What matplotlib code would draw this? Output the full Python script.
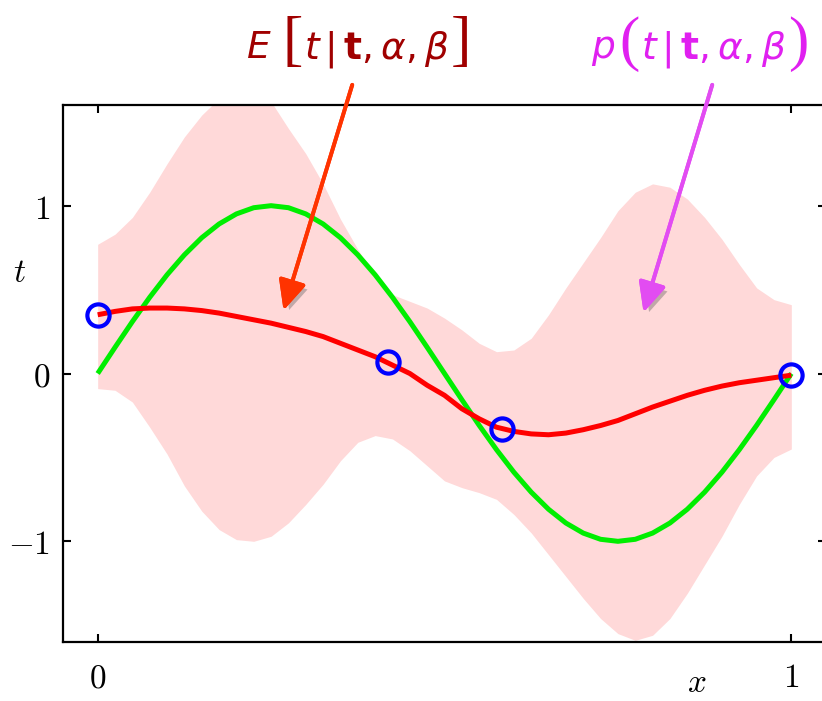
import numpy as np
import matplotlib
matplotlib.use("Agg")
import matplotlib.pyplot as plt
import matplotlib.patheffects as pe

plt.rcParams['mathtext.fontset'] = 'cm'

# values
x_grid = [0.0, 0.025, 0.05, 0.075, 0.1, 0.125, 0.15, 0.175, 0.2, 0.225,
          0.25, 0.275, 0.3, 0.325, 0.35, 0.375, 0.4, 0.425, 0.45, 0.475,
          0.5, 0.525, 0.55, 0.575, 0.6, 0.625, 0.65, 0.675, 0.7, 0.725,
          0.75, 0.775, 0.8, 0.825, 0.85, 0.875, 0.9, 0.925, 0.95, 0.975, 1.0]

band_upper = [0.77, 0.83, 0.93, 1.08, 1.25, 1.41, 1.54, 1.64, 1.71, 1.70,
              1.62, 1.46, 1.31, 1.13, 0.92, 0.74, 0.58, 0.47, 0.43, 0.39,
              0.33, 0.26, 0.18, 0.13, 0.14, 0.21, 0.35, 0.51, 0.66, 0.81,
              0.97, 1.08, 1.13, 1.11, 1.04, 0.93, 0.80, 0.65, 0.51, 0.44, 0.41]

band_lower = [-0.09, -0.10, -0.17, -0.32, -0.48, -0.67, -0.82, -0.93, -0.99, -1.00,
              -0.97, -0.89, -0.78, -0.66, -0.52, -0.41, -0.37, -0.39, -0.46, -0.55,
              -0.64, -0.68, -0.71, -0.75, -0.84, -0.95, -1.08, -1.21, -1.34, -1.46,
              -1.55, -1.59, -1.56, -1.46, -1.31, -1.14, -0.97, -0.78, -0.61, -0.50, -0.45]

pred_mean = [0.35, 0.37, 0.385, 0.39, 0.39, 0.385, 0.375, 0.36, 0.34, 0.32,
             0.30, 0.275, 0.25, 0.22, 0.18, 0.14, 0.10, 0.05, 0.0, -0.07,
             -0.13, -0.21, -0.27, -0.32, -0.345, -0.36, -0.365, -0.355, -0.335, -0.31,
             -0.28, -0.24, -0.20, -0.165, -0.13, -0.10, -0.075, -0.055, -0.04, -0.025, -0.01]

true_curve = [0.0, 0.156, 0.309, 0.454, 0.588, 0.707, 0.809, 0.891, 0.951, 0.988,
              1.0, 0.988, 0.951, 0.891, 0.809, 0.707, 0.588, 0.454, 0.309, 0.156,
              0.0, -0.156, -0.309, -0.454, -0.588, -0.707, -0.809, -0.891, -0.951, -0.988,
              -1.0, -0.988, -0.951, -0.891, -0.809, -0.707, -0.588, -0.454, -0.309, -0.156, 0.0]

x_data = [0.0, 0.418, 0.583, 1.0]
t_data = [0.35, 0.066, -0.33, -0.01]

W, H = 822, 701
fig = plt.figure(figsize=(W / 100, H / 100), dpi=100)
ax = fig.add_axes([63/W, 59/H, 763/W, 537/H])

ax.fill_between(x_grid, band_lower, band_upper, color='#ffd9d9', lw=0)
ax.plot(x_grid, true_curve, color='#00ee00', lw=3.6, solid_capstyle='butt')
ax.plot(x_grid, pred_mean, color='#ff0000', lw=3.6, solid_capstyle='butt')
ax.plot(x_data, t_data, 'o', ms=16, mfc='none', mec='#0000ff', mew=3, clip_on=False)

ax.set_xlim(-0.05, 1.05)
ax.set_ylim(-1.6, 1.6)
ax.set_xticks([0, 1])
ax.set_xticklabels(['$0$', '$1$'])
ax.set_yticks([-1, 0, 1])
ax.set_yticklabels(['$-1$', '$0$', '$1$'])
ax.tick_params(direction='in', top=True, right=True, length=6, width=1.5,
               labelsize=24)
ax.tick_params(axis='x', pad=14)
ax.tick_params(axis='y', pad=9)
for s in ax.spines.values():
    s.set_linewidth(1.6)

fig.text(20/W, 1 - 272/H, '$t$', fontsize=24, ha='center', va='center')
fig.text(697/W, 1 - 683/H, '$x$', fontsize=24, ha='center', va='center')

# annotations with shadowed arrows
shadow = [pe.withSimplePatchShadow(offset=(3, -3), shadow_rgbFace='0.3', alpha=0.35), pe.Normal()]
ax.annotate('', xy=(0.268, 0.377), xytext=(0.367, 1.72), annotation_clip=False,
            arrowprops=dict(arrowstyle='-|>,head_length=0.6,head_width=0.28',
                            mutation_scale=30, color='#ff3300', lw=2.8,
                            shrinkA=0, shrinkB=0, path_effects=shadow))
ax.annotate('', xy=(0.787, 0.365), xytext=(0.886, 1.72), annotation_clip=False,
            arrowprops=dict(arrowstyle='-|>,head_length=0.6,head_width=0.28',
                            mutation_scale=30, color='#e24cf2', lw=2.8,
                            shrinkA=0, shrinkB=0, path_effects=shadow))

# label text pieces: letter, big bracket, inner text, big bracket
def label(parts, color):
    for xc, s, kind in parts:
        if kind == 'br':
            fig.text(xc / W, 1 - 44 / H, s, fontsize=44, color=color, ha='center',
                     va='center', family='Liberation Serif')
        else:
            fig.text(xc / W, 1 - 58 / H, s, fontsize=27, color=color, ha='center',
                     va='baseline', math_fontfamily='dejavusans')

label([(259, r'$\mathit{E}$', 'tx'), (293, '[', 'br'),
       (377, r'$t\,|\,\mathbf{t},\alpha,\beta$', 'tx'), (461, ']', 'br')], '#a00000')
label([(603, r'$\mathit{p}$', 'tx'), (630, '(', 'br'),
       (714, r'$t\,|\,\mathbf{t},\alpha,\beta$', 'tx'), (798, ')', 'br')], '#e020f0')

fig.savefig('out.png', dpi=100)
